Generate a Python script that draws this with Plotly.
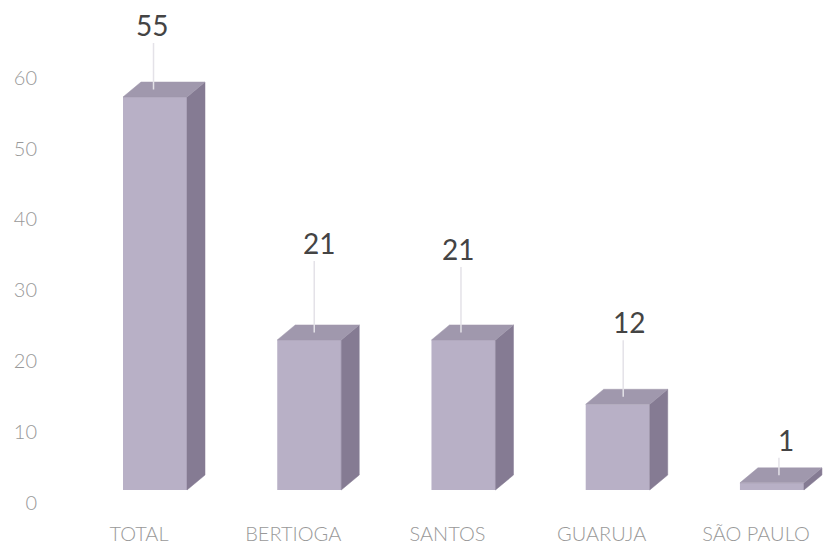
import plotly.graph_objects as go

# Data
categories = ["TOTAL", "BERTIOGA", "SANTOS", "GUARUJA", "SÃO PAULO"]
values = [55, 21, 21, 12, 1]
y_ticks = [0, 10, 20, 30, 40, 50, 60]

# Styling / geometry (pixels converted to axis units below)
PX_PER_CAT = 154.25          # horizontal pixels per category
PX_PER_UNIT = 7.145          # vertical pixels per value unit (bar axis)
BAR_W = 0.415                # front face width in category units
DEPTH_X = 18 / PX_PER_CAT    # 3D depth offset, x
DEPTH_Y = 15 / PX_PER_UNIT   # 3D depth offset, y
label_xshift = [-3, 10, -5, 11, 14]
label_yshift = [72, 97, 91, 82, 43]

FRONT = "#b8b0c6"
SIDE = "#857b93"
TOP = "#a098ad"

fig = go.Figure()

xs = list(range(len(categories)))

# side and top faces of each box
for c, v in zip(xs, values):
    hw = BAR_W / 2
    fig.add_trace(go.Scatter(
        x=[c + hw, c + hw + DEPTH_X, c + hw + DEPTH_X, c + hw, c + hw],
        y=[0, DEPTH_Y, v + DEPTH_Y, v, 0],
        fill="toself", fillcolor=SIDE, mode="lines",
        line=dict(color=SIDE, width=0.5), hoverinfo="skip", showlegend=False))
    fig.add_trace(go.Scatter(
        x=[c - hw, c - hw + DEPTH_X, c + hw + DEPTH_X, c + hw, c - hw],
        y=[v, v + DEPTH_Y, v + DEPTH_Y, v, v],
        fill="toself", fillcolor=TOP, mode="lines",
        line=dict(color=TOP, width=0.5), hoverinfo="skip", showlegend=False))

# front faces
fig.add_trace(go.Bar(
    x=xs, y=values, width=BAR_W, base=0,
    marker=dict(color=FRONT, line=dict(width=0)),
    showlegend=False, hoverinfo="skip"))

# leader lines from labels down to the top faces
for c, v, xs_, ys_ in zip(xs, values, label_xshift, label_yshift):
    lx = c + (xs_ / 2) / PX_PER_CAT
    fig.add_trace(go.Scatter(
        x=[lx, lx],
        y=[v + (ys_ - 18) / PX_PER_UNIT, v + DEPTH_Y * 0.5],
        mode="lines", line=dict(color="#e4e2e8", width=1.5),
        hoverinfo="skip", showlegend=False))

# value labels
for c, v, xs_, ys_ in zip(xs, values, label_xshift, label_yshift):
    fig.add_annotation(
        x=c, y=v, text=str(v), showarrow=False,
        xshift=xs_, yshift=ys_, yanchor="middle", xanchor="center",
        font=dict(family="Lato", size=28, color="#444444", weight=400))

# helper trace so the labelled value axis is drawn
fig.add_trace(go.Scatter(x=[0], y=[0], yaxis="y2", mode="markers",
                         marker=dict(opacity=0), hoverinfo="skip",
                         showlegend=False))

H_PLOT = 510
fig.update_layout(
    width=823, height=545,
    margin=dict(l=60, r=0, t=10, b=25),
    paper_bgcolor="white", plot_bgcolor="white",
    xaxis=dict(range=[-0.616, 4.331], tickvals=xs, ticktext=categories,
               showgrid=False, zeroline=False, showline=False, ticks="",
               ticklabelshift=-16,
               tickfont=dict(family="Lato", size=20, color="#999999",
                             weight=300)),
    yaxis=dict(range=[-30 / PX_PER_UNIT, (H_PLOT - 30) / PX_PER_UNIT],
               visible=False, showgrid=False, zeroline=False),
    yaxis2=dict(range=[-17 / 7.09, (H_PLOT - 17) / 7.09], overlaying="y",
                side="left", tickvals=y_ticks, showgrid=False,
                zeroline=False, showline=False, ticks="",
                ticklabelstandoff=22,
                tickfont=dict(family="Lato", size=20, color="#999999",
                              weight=300)),
)

fig.write_html("out.html")
